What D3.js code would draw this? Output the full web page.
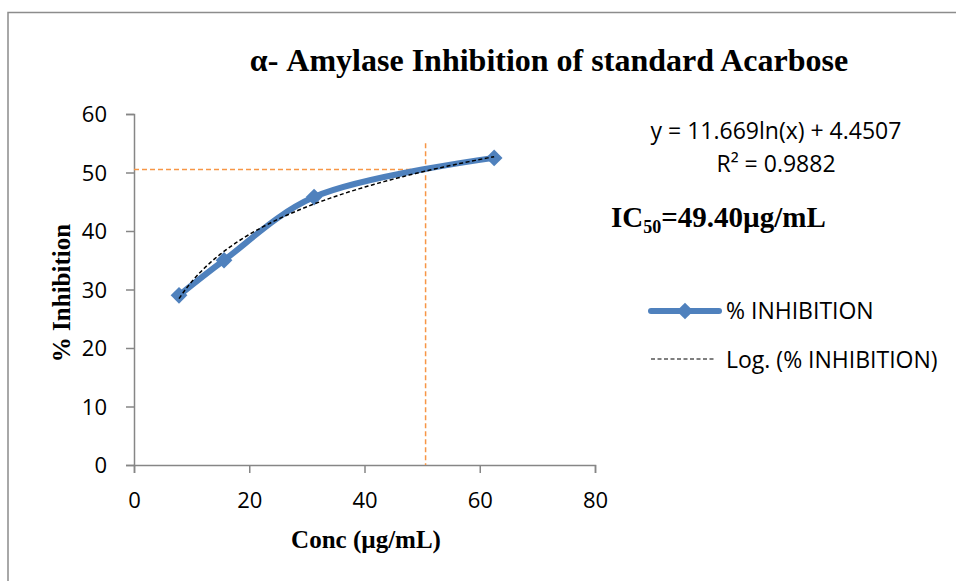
<!DOCTYPE html>
<html>
<head>
<meta charset="utf-8">
<script src="https://cdn.jsdelivr.net/npm/d3@7"></script>
<style>
  body { margin: 0; background: #fff; }
  .tick text { font-family: "Open Sans", "Liberation Sans", sans-serif; font-size: 22px; fill: #000; }
  .serif { font-family: "Liberation Serif", "DejaVu Serif", serif; font-weight: bold; }
  .sans { font-family: "Open Sans", "Liberation Sans", sans-serif; }
</style>
</head>
<body>
<div id="vis"></div>
<script>
'use strict';

//data
var conc = [7.8125, 15.625, 31.25, 62.5];
var inhibition = [29.0, 35.0, 45.8, 52.5];
var xTicks = [0, 20, 40, 60, 80];
var yTicks = [0, 10, 20, 30, 40, 50, 60];
//trendline coefficients as printed on the chart
var fitA = 11.669;
var fitB = 4.4507;
//IC50 guide lines
var guideX = [50.6];
var guideY = [50.5];

var width = 956, height = 581;
var plot = { left: 134, right: 595, top: 114, bottom: 465 };

var svg = d3.select('#vis').append('svg')
    .attr('width', width)
    .attr('height', height);

//outer chart border
svg.append('rect')
    .attr('x', 8).attr('y', 12.5)
    .attr('width', 1000).attr('height', 700)
    .attr('fill', 'none')
    .attr('stroke', '#8c8c8c')
    .attr('stroke-width', 1.5);

var x = d3.scaleLinear().domain([0, 80]).range([plot.left, plot.right]);
var y = d3.scaleLinear().domain([0, 60]).range([plot.bottom, plot.top]);

//axes
var xAxis = svg.append('g')
    .attr('transform', 'translate(0,' + plot.bottom + ')')
    .call(d3.axisBottom(x).tickValues(xTicks).tickSize(8).tickPadding(19));
var yAxis = svg.append('g')
    .attr('transform', 'translate(' + plot.left + ',0)')
    .call(d3.axisLeft(y).tickValues(yTicks).tickSize(8).tickPadding(19));
[xAxis, yAxis].forEach(function (ax) {
    ax.selectAll('path, line').attr('stroke', '#868686').attr('stroke-width', 1.5);
});
yAxis.selectAll('.tick text').attr('dy', '0.36em');

//orange IC50 guides
svg.append('line')
    .attr('x1', x(0)).attr('x2', x(guideX[0]))
    .attr('y1', y(guideY[0])).attr('y2', y(guideY[0]))
    .attr('stroke', '#f79646').attr('stroke-width', 1.5)
    .attr('stroke-dasharray', '5,3');
svg.append('line')
    .attr('x1', x(guideX[0])).attr('x2', x(guideX[0]))
    .attr('y1', y(55)).attr('y2', y(0))
    .attr('stroke', '#f79646').attr('stroke-width', 1.5)
    .attr('stroke-dasharray', '5,3');

//data series, smoothed like the spreadsheet line
var pts = conc.map(function (c, i) { return [c, inhibition[i]]; });
var line = d3.line()
    .x(function (d) { return x(d[0]); })
    .y(function (d) { return y(d[1]); })
    .curve(d3.curveCatmullRom.alpha(0.5));
svg.append('path')
    .datum(pts)
    .attr('d', line)
    .attr('fill', 'none')
    .attr('stroke', '#4f81bd')
    .attr('stroke-width', 6)
    .attr('stroke-linejoin', 'round');

var diamond = d3.symbol().type(d3.symbolSquare).size(140);
svg.selectAll('.marker')
    .data(pts)
    .enter().append('path')
    .attr('class', 'marker')
    .attr('d', diamond)
    .attr('transform', function (d) { return 'translate(' + x(d[0]) + ',' + y(d[1]) + ') rotate(45)'; })
    .attr('fill', '#4f81bd');

//log trendline from the printed equation
var trend = d3.range(0, 101).map(function (i) {
    var c = conc[0] + (conc[conc.length - 1] - conc[0]) * i / 100;
    return [c, fitA * Math.log(c) + fitB];
});
svg.append('path')
    .datum(trend)
    .attr('d', d3.line().x(function (d) { return x(d[0]); }).y(function (d) { return y(d[1]); }))
    .attr('fill', 'none')
    .attr('stroke', '#000')
    .attr('stroke-width', 1.5)
    .attr('stroke-dasharray', '4,2.5');

//title and axis titles
svg.append('text')
    .attr('class', 'serif')
    .attr('x', 549).attr('y', 71)
    .attr('text-anchor', 'middle')
    .attr('font-size', 32)
    .text('α- Amylase Inhibition of standard Acarbose');
svg.append('text')
    .attr('class', 'serif')
    .attr('x', 366).attr('y', 548)
    .attr('text-anchor', 'middle')
    .attr('font-size', 25)
    .text('Conc (µg/mL)');
svg.append('text')
    .attr('class', 'serif')
    .attr('transform', 'translate(70,293) rotate(-90)')
    .attr('text-anchor', 'middle')
    .attr('font-size', 25)
    .text('% Inhibition');

//equation
svg.append('text')
    .attr('class', 'sans')
    .attr('x', 776).attr('y', 139)
    .attr('text-anchor', 'middle')
    .attr('font-size', 23)
    .text('y = ' + fitA + 'ln(x) + ' + fitB);
svg.append('text')
    .attr('class', 'sans')
    .attr('x', 776).attr('y', 172)
    .attr('text-anchor', 'middle')
    .attr('font-size', 23)
    .text('R² = 0.9882');

//IC50 label
var ic = svg.append('text')
    .attr('class', 'serif')
    .attr('x', 611).attr('y', 227)
    .attr('font-size', 29);
ic.append('tspan').text('IC');
ic.append('tspan').attr('font-size', 18).attr('dy', 6).text('50');
ic.append('tspan').attr('dy', -6).text('=49.40µg/mL');

//legend
svg.append('line')
    .attr('x1', 651).attr('x2', 719).attr('y1', 311).attr('y2', 311)
    .attr('stroke', '#4f81bd').attr('stroke-width', 6)
    .attr('stroke-linecap', 'round');
svg.append('path')
    .attr('d', diamond)
    .attr('transform', 'translate(685,311) rotate(45)')
    .attr('fill', '#4f81bd');
svg.append('text')
    .attr('class', 'sans')
    .attr('x', 726).attr('y', 319)
    .attr('font-size', 23)
    .text('% INHIBITION');
svg.append('line')
    .attr('x1', 651).attr('x2', 715).attr('y1', 359).attr('y2', 359)
    .attr('stroke', '#000').attr('stroke-width', 1.2)
    .attr('stroke-dasharray', '4,2.5');
svg.append('text')
    .attr('class', 'sans')
    .attr('x', 726).attr('y', 368)
    .attr('font-size', 23)
    .text('Log. (% INHIBITION)');
</script>
</body>
</html>
